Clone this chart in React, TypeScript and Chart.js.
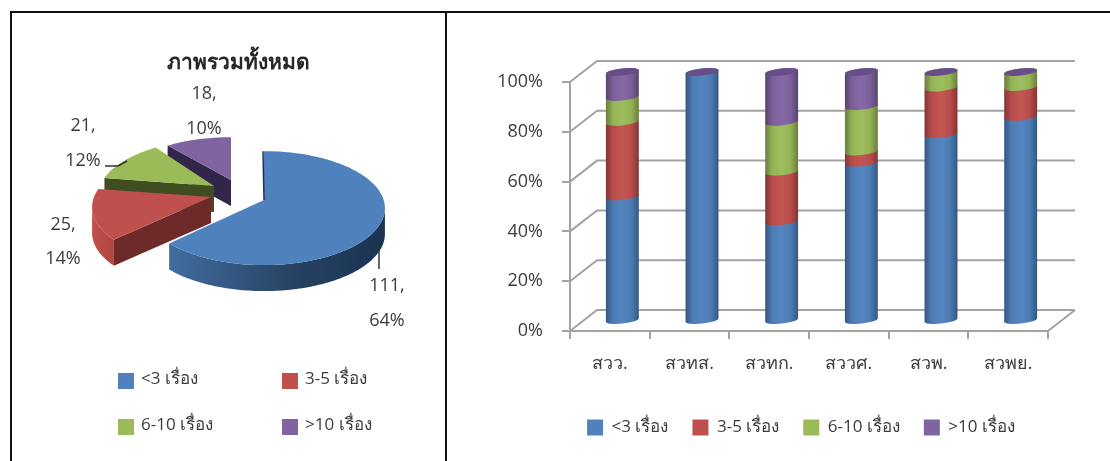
import React, { useEffect, useRef } from "react";
import { Chart, registerables } from "chart.js";

Chart.register(...registerables);

// ---- data ----
const seriesNames = ["<3 เรื่อง", "3-5 เรื่อง", "6-10 เรื่อง", ">10 เรื่อง"];
const pieTitle = "ภาพรวมทั้งหมด";
const pieCounts = [111, 25, 21, 18];
const piePercents = ["64%", "14%", "12%", "10%"];
const agencies = ["สวว.", "สวทส.", "สวทก.", "สววศ.", "สวพ.", "สวพย."];
const under3 = [50, 100, 40, 63.6, 75, 82];
const from3to5 = [30, 0, 20, 4.5, 18.75, 12];
const from6to10 = [10, 0, 20, 18.2, 6.25, 6];
const over10 = [10, 0, 20, 13.7, 0, 0];

// ---- styling ----
const FONT = '"Open Sans", "Noto Sans", sans-serif';
const TEXT = "#3c3c3c";
const GRID = "#a3a3a3";
const COLORS = ["#4f81bd", "#c0504d", "#9bbb59", "#8064a2"];
const SIDE = ["#2c4a6e", "#b0453f", "#3f4d20", "#31264a"];
const CUT = ["#1e3350", "#6e2a29", "#3f4d20", "#31264a"];

// projection of each exploded slice, relative to the pie centre
const SLICE = [
  { dx: 26, dy: 0, apexX: 0, apexY: -8 },
  { dx: -25, dy: -1, apexX: -2, apexY: -10 },
  { dx: -19, dy: -12, apexX: -5, apexY: -10 },
  { dx: -7, dy: -14, apexX: 0, apexY: -14 },
];
const PIE_SQUASH = 57 / 121;
const PIE_DEPTH = 26;
const PIE_LABELS = [
  { x: 387, y: 286, y2: 321 },
  { x: 63, y: 225, y2: 259 },
  { x: 83, y: 126, y2: 161 },
  { x: 204, y: 94, y2: 129 },
];
const PIE_LEGEND = [
  { box: 118, text: 141, y: 380 },
  { box: 282, text: 305, y: 380 },
  { box: 118, text: 141, y: 426 },
  { box: 282, text: 305, y: 426 },
];

const warp = (t: number) => (t > Math.PI ? t + 0.157 * Math.sin(t - Math.PI) : t);

const pie3d = {
  id: "pie3d",
  beforeDatasetsDraw(chart: any) {
    chart.getDatasetMeta(0).data.forEach((el: any) => {
      el.draw = () => {};
    });
  },
  afterDatasetsDraw(chart: any) {
    const ctx = chart.ctx;
    const arcs = chart.getDatasetMeta(0).data;
    for (let i = arcs.length - 1; i >= 0; i--) {
      const el = arcs[i];
      const s = SLICE[i];
      const cx = el.x + s.dx;
      const cy = el.y + s.dy;
      const rx = el.outerRadius;
      const ry = rx * PIE_SQUASH;
      const a = warp(el.startAngle + Math.PI / 2);
      const rawEnd = el.endAngle + Math.PI / 2;
      const b = i === 0 ? (rawEnd + warp(rawEnd)) / 2 : warp(rawEnd);
      const px = (t: number) => cx + rx * Math.sin(t);
      const py = (t: number) => cy - ry * Math.cos(t);
      const ax = cx + s.apexX;
      const ay = cy + s.apexY;
      const arcPath = (from: number, to: number, dz: number) => {
        const steps = Math.max(4, Math.ceil(Math.abs(to - from) * 40));
        for (let k = 0; k <= steps; k++) {
          const t = from + ((to - from) * k) / steps;
          ctx.lineTo(px(t), py(t) + dz);
        }
      };
      ctx.save();
      // start cut face
      if (a >= Math.PI) {
        ctx.beginPath();
        ctx.moveTo(ax, ay);
        ctx.lineTo(px(a), py(a));
        ctx.lineTo(px(a), py(a) + PIE_DEPTH);
        ctx.lineTo(ax, ay + PIE_DEPTH);
        ctx.closePath();
        ctx.fillStyle = CUT[i];
        ctx.fill();
      }
      // outer wall
      const f = Math.max(a, Math.PI / 2);
      const t = Math.min(b, (3 * Math.PI) / 2);
      if (t > f) {
        ctx.beginPath();
        arcPath(f, t, 0);
        arcPath(t, f, PIE_DEPTH);
        ctx.closePath();
        const g = ctx.createLinearGradient(px(f), 0, px(t), 0);
        if (i === 0) {
          g.addColorStop(0, "#1b3251");
          g.addColorStop(0.45, "#274464");
          g.addColorStop(1, "#416d9f");
        } else {
          g.addColorStop(0, SIDE[i]);
          g.addColorStop(1, COLORS[i]);
        }
        ctx.fillStyle = g;
        ctx.fill();
      }
      // top face
      ctx.beginPath();
      ctx.moveTo(ax, ay);
      arcPath(a, b, 0);
      ctx.closePath();
      ctx.fillStyle = el.options.backgroundColor;
      ctx.fill();
      if (i === 0) {
        ctx.beginPath();
        ctx.moveTo(px(a) - 1, py(a));
        ctx.lineTo(ax, ay);
        ctx.strokeStyle = "#1e3350";
        ctx.lineWidth = 1.5;
        ctx.stroke();
      }
      ctx.restore();
    }
    // leader lines
    ctx.save();
    ctx.strokeStyle = "#333";
    ctx.lineWidth = 1.5;
    ctx.beginPath();
    ctx.moveTo(379, 249);
    ctx.lineTo(379, 269);
    ctx.moveTo(105, 166);
    ctx.lineTo(118, 166);
    ctx.lineTo(127, 161);
    ctx.stroke();
    // data labels
    ctx.fillStyle = TEXT;
    ctx.font = `18px ${FONT}`;
    ctx.textAlign = "center";
    ctx.textBaseline = "middle";
    PIE_LABELS.forEach((p, i) => {
      ctx.fillText(`${chart.data.datasets[0].data[i]},`, p.x, p.y);
      ctx.fillText(piePercents[i], p.x, p.y2);
    });
    // legend
    ctx.textAlign = "left";
    ctx.font = `17px ${FONT}`;
    chart.data.labels.forEach((name: string, i: number) => {
      const p = PIE_LEGEND[i];
      ctx.fillStyle = COLORS[i];
      ctx.fillRect(p.box, p.y - 7, 16, 16);
      ctx.fillStyle = TEXT;
      ctx.fillText(name, p.text, p.y - 1);
    });
    ctx.restore();
  },
};

const BAR_DX = 12.5;
const BAR_DY = -10;
const CAP_RY = 3.6;
const TILT = (-6 * Math.PI) / 180;
const WALL_DX = 27;
const WALL_DY = -21;
const LEGEND_SHIFT = 53;

const walls = {
  id: "walls",
  afterLayout(chart: any) {
    chart.legend.left += LEGEND_SHIFT;
    chart.legend.right += LEGEND_SHIFT;
  },
  beforeDatasetsDraw(chart: any) {
    const ctx = chart.ctx;
    const { left, right } = chart.chartArea;
    const y = chart.scales.y;
    ctx.save();
    ctx.strokeStyle = GRID;
    ctx.lineWidth = 2;
    ctx.beginPath();
    y.ticks.forEach((t: any) => {
      const py = y.getPixelForValue(t.value);
      ctx.moveTo(left, py);
      ctx.lineTo(left + WALL_DX, py + WALL_DY);
      ctx.lineTo(right + WALL_DX, py + WALL_DY);
    });
    const by = y.getPixelForValue(0);
    ctx.moveTo(right, by);
    ctx.lineTo(right + WALL_DX, by + WALL_DY);
    ctx.stroke();
    ctx.restore();
    chart.data.datasets.forEach((_: any, i: number) => {
      chart.getDatasetMeta(i).data.forEach((el: any) => {
        el.draw = () => {};
      });
    });
  },
  afterDatasetsDraw(chart: any) {
    const ctx = chart.ctx;
    const n = chart.data.datasets.length;
    ctx.save();
    ctx.translate(BAR_DX, BAR_DY);
    for (let i = 0; i < n; i++) {
      chart.getDatasetMeta(i).data.forEach((el: any) => {
        const r = el.width / 2;
        if (Math.abs(el.base - el.y) > 0.5) {
          ctx.beginPath();
          ctx.ellipse(el.x, el.base, r, CAP_RY, TILT, Math.PI, 0, true);
          ctx.ellipse(el.x, el.y, r, CAP_RY, TILT, 0, Math.PI, true);
          ctx.closePath();
          ctx.fillStyle = chart.data.datasets[i].backgroundColor;
          ctx.fill();
          const g = ctx.createLinearGradient(el.x - r, 0, el.x + r, 0);
          g.addColorStop(0, "rgba(0,0,0,0.33)");
          g.addColorStop(0.22, "rgba(0,0,0,0.04)");
          g.addColorStop(0.5, "rgba(255,255,255,0.03)");
          g.addColorStop(0.78, "rgba(0,0,0,0.05)");
          g.addColorStop(1, "rgba(0,0,0,0.33)");
          ctx.fillStyle = g;
          ctx.fill();
        }
        if (i === n - 1) {
          ctx.beginPath();
          ctx.ellipse(el.x, el.y, r, CAP_RY, TILT, 0, Math.PI * 2);
          ctx.fillStyle = "#674e88";
          ctx.fill();
        }
      });
    }
    ctx.restore();
  },
};

export default function App() {
  const pieRef = useRef<HTMLCanvasElement>(null);
  const barRef = useRef<HTMLCanvasElement>(null);

  useEffect(() => {
    document.documentElement.style.overflow = "hidden";
    const pie = new Chart(pieRef.current!, {
      type: "pie",
      data: {
        labels: seriesNames,
        datasets: [{ data: pieCounts, backgroundColor: COLORS, borderWidth: 0 }],
      },
      options: {
        animation: false,
        responsive: false,
        layout: { padding: { left: 117, right: 117, top: 0, bottom: 132 } },
        plugins: {
          legend: { display: false },
          tooltip: { enabled: false },
          title: {
            display: true,
            text: pieTitle,
            color: "#262626",
            font: { family: FONT, size: 21, weight: "bold", lineHeight: 1.2 },
            padding: { top: 50, bottom: 12 },
          },
        },
      },
      plugins: [pie3d],
    } as any);

    const bar = new Chart(barRef.current!, {
      type: "bar",
      data: {
        labels: agencies,
        datasets: [under3, from3to5, from6to10, over10].map((data, i) => ({
          label: seriesNames[i],
          data,
          backgroundColor: COLORS[i],
          borderWidth: 0,
          clip: false,
          barThickness: 33,
        })),
      },
      options: {
        animation: false,
        responsive: false,
        layout: { padding: { left: 0, right: 62, top: 82, bottom: 15 } },
        scales: {
          x: {
            stacked: true,
            afterFit: (s: any) => {
              s.height = 64;
            },
            grid: { drawOnChartArea: false, color: GRID, lineWidth: 2, tickLength: 8 },
            border: { color: GRID, width: 2 },
            ticks: { color: TEXT, font: { family: FONT, size: 18 }, padding: 14, maxRotation: 0 },
          },
          y: {
            stacked: true,
            min: 0,
            max: 100,
            afterFit: (s: any) => {
              s.width = 122;
            },
            grid: { drawOnChartArea: false, color: GRID, lineWidth: 2, tickLength: 8 },
            border: { color: GRID, width: 2 },
            ticks: {
              stepSize: 20,
              color: TEXT,
              font: { family: FONT, size: 18 },
              padding: 19,
              callback: (v: any) => `${v}%`,
            },
          },
        },
        plugins: {
          tooltip: { enabled: false },
          legend: {
            position: "bottom",
            labels: {
              color: TEXT,
              font: { family: FONT, size: 17 },
              boxWidth: 16,
              boxHeight: 16,
              padding: 24,
            },
          },
        },
      },
      plugins: [walls],
    } as any);

    return () => {
      pie.destroy();
      bar.destroy();
    };
  }, []);

  return (
    <div style={{ position: "absolute", left: 0, top: 0, width: 1110, height: 461, overflow: "hidden", background: "#fff" }}>
      <div style={{ position: "absolute", left: 10, top: 11, width: 1100, height: 2, background: "#111" }} />
      <div style={{ position: "absolute", left: 10, top: 11, width: 2, height: 450, background: "#111" }} />
      <div style={{ position: "absolute", left: 445, top: 11, width: 2, height: 450, background: "#111" }} />
      <canvas ref={pieRef} width={476} height={461} style={{ position: "absolute", left: 0, top: 0 }} />
      <canvas ref={barRef} width={662} height={461} style={{ position: "absolute", left: 448, top: 0 }} />
    </div>
  );
}
